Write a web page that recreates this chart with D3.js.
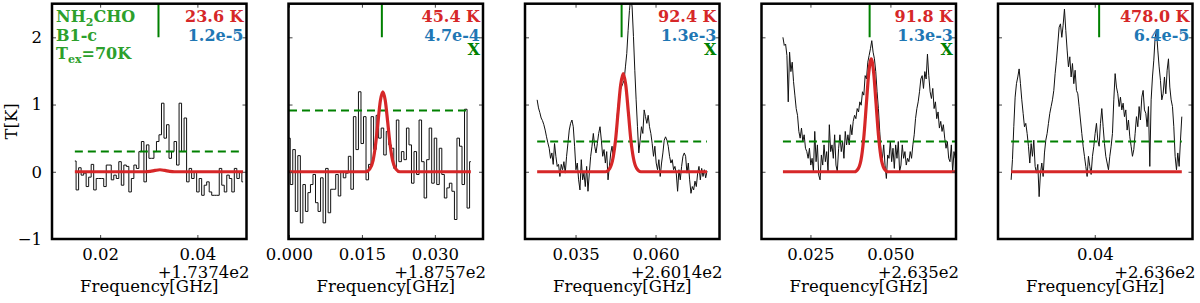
<!DOCTYPE html>
<html>
<head>
<meta charset="utf-8">
<script src="https://cdn.jsdelivr.net/npm/d3@7"></script>
<style>
  body { margin: 0; background: #fff; }
  svg text { font-family: "DejaVu Serif", serif; }
</style>
</head>
<body>
<div id="chart"></div>
<script>
// frequency offsets in GHz, one entry per panel
var offsetLabels = ["+1.7374e2", "+1.8757e2", "+2.6014e2", "+2.635e2", "+2.636e2"];
var xDomains = [[0.0101, 0.0501], [-0.0001, 0.0399], [0.0192, 0.0800], [0.0097, 0.0705], [0.0201, 0.0601]];
var xTicks = [[0.02, 0.04], [0, 0.015, 0.030], [0.035, 0.060], [0.025, 0.050], [0.04]];
var xTickFormats = [".2f", ".3f", ".3f", ".3f", ".2f"];
var yTicks = [-1, 0, 1, 2];

var tempLabels = ["23.6 K", "45.4 K", "92.4 K", "91.8 K", "478.0 K"];
var abundLabels = ["1.2e-5", "4.7e-4", "1.3e-3", "1.3e-3", "6.4e-5"];
var flagLabels = ["", "X", "X", "X", ""];

var rmsLevels = [0.30, 0.91, 0.45, 0.45, 0.45];
var lineFreqs = [0.0320, 0.0191, 0.0494, 0.0435, 0.0409];
var dataRanges = [[0.0148, 0.0494], [0.0000, 0.0374], [0.0230, 0.0761], [0.0164, 0.0707], [0.0228, 0.0579]];

// observed spectra (T in K), channels spread over dataRanges
var spec1 = [0.16, -0.27, 0.06, -0.05, -0.02, -0.22, -0.08, 0.11, -0.27, -0.10, -0.10, -0.10, -0.22, 0.10,
  0.10, -0.12, -0.05, -0.10, 0.15, -0.20, 0.10, 0.08, -0.30, -0.10, 0.10, 0.05, 0.30, 0.45, -0.15, 0.40,
  0.20, 0.20, 0.30, 0.45, 0.55, 1.02, 0.50, 0.70, 0.20, 0.30, 0.45, 0.10, 1.02, 0.30, 0.80, -0.15, 0.05,
  -0.10, 0.00, -0.30, -0.10, -0.35, -0.20, -0.15, -0.30, -0.35, -0.35, -0.35, 0.05, -0.20, -0.30, -0.05,
  -0.10, -0.30, 0.05, -0.10, 0.00, -0.15];
var spec2 = [0.50, -0.19, 0.33, -0.59, 0.24, -0.76, -0.19, -0.59, -0.31, -0.19, -0.04, -0.46, -0.59, -0.09,
  -0.76, 0.05, -0.61, -0.26, -0.26, -0.04, -0.36, 0.00, -0.09, -0.02, 0.23, -0.26, 0.82, 0.33, 1.19, 0.42,
  0.82, -0.12, 0.11, 0.82, 0.33, 0.84, 0.50, 0.65, 0.25, 0.60, 0.40, 0.35, 0.05, 0.77, 0.15, 0.30, 0.18,
  0.65, 0.40, -0.17, 0.30, -0.04, 0.77, 0.15, -0.39, 0.18, 0.65, -0.17, 0.50, -0.19, 0.35, -0.04, -0.39,
  -0.24, -0.17, -0.29, -0.71, 0.50, 0.38, -0.19, 0.93, -0.54, 0.15];
var spec3 = [1.07, 0.95, 0.88, 0.80, 0.76, 0.70, 0.62, 0.52, 0.43, 0.35, 0.20, 0.28, 0.11, 0.42, 0.23, 0.08,
  0.11, -0.07, 0.11, 0.03, 0.15, -0.02, 0.23, 0.42, 0.62, 0.72, 0.77, 0.67, 0.38, 0.03, 0.13, -0.12, -0.27,
  0.18, -0.12, -0.02, -0.22, 0.08, -0.29, -0.02, 0.23, 0.38, 0.57, 0.38, 0.28, 0.42, 0.57, 0.67, 0.47, 0.23,
  0.33, 0.13, 0.30, -0.12, 0.08, 0.28, 0.38, 0.18, 0.42, 0.57, 0.87, 1.07, 1.21, 1.26, 1.31, 1.36, 1.56,
  1.76, 2.10, 2.40, 2.60, 2.45, 2.01, 1.51, 1.07, 0.67, 0.28, 0.47, 0.67, 0.57, 0.92, 0.82, 0.72, 0.84,
  0.67, 0.57, 0.42, 0.23, 0.38, 0.13, 0.03, 0.18, -0.07, 0.13, 0.28, 0.47, 0.52, 0.47, 0.38, 0.23, 0.13,
  0.18, 0.03, 0.08, -0.02, -0.29, 0.03, -0.12, 0.08, 0.23, 0.28, 0.23, -0.02, 0.13, -0.12, -0.32, -0.22,
  -0.27, -0.14, -0.22, -0.02, 0.08, -0.12, 0.05, -0.07, 0.03, -0.09, 0.01];
var spec4 = [2.00, 1.88, 1.90, 1.73, 1.04, 1.78, 1.49, 1.63, 1.34, 1.14, 0.94, 0.84, 0.60, 0.50, 0.65, 0.45,
  0.55, 0.35, 0.30, 0.20, 0.35, 0.10, 0.20, 0.00, 0.60, 0.15, 0.40, -0.05, -0.12, 0.25, 0.10, 0.40, 0.15,
  0.30, 0.00, 0.70, 0.30, 0.40, 0.20, 0.55, 0.10, 0.00, 0.35, 0.55, 0.30, 0.45, 0.20, 0.60, 0.40, 0.55,
  0.40, 0.70, 0.55, 0.75, 0.84, 0.79, 0.94, 0.89, 1.04, 0.99, 1.19, 1.14, 1.43, 1.38, 1.63, 1.73, 1.83,
  1.95, 1.78, 1.68, 1.49, 1.19, 0.94, 0.60, 0.30, 0.20, 0.40, 0.10, -0.10, 0.25, 0.20, 0.45, 0.15, 0.35,
  0.05, 0.40, 0.20, 0.45, 0.00, 0.10, 0.40, 0.20, 0.30, 0.10, 0.20, 0.15, 0.30, 0.20, 0.40, 0.55, 0.79,
  0.94, 1.04, 1.19, 1.38, 1.43, 1.24, 1.49, 1.38, 1.75, 1.43, 1.19, 1.09, 1.24, 0.94, 1.04, 0.79, 0.89,
  0.65, 0.75, 0.60, 0.70, 0.50, 0.35, 0.45, 0.20, 0.15, 0.40, 0.00, 0.30, 0.20, 0.40];
var spec5 = [-0.12, 0.18, 0.67, 1.11, 1.31, 1.41, 1.53, 1.31, 1.07, 0.87, 0.67, 0.72, 0.57, 0.38, 0.13, 0.42,
  0.23, 0.47, 0.08, -0.02, 0.11, -0.37, -0.02, 0.13, -0.07, 0.28, 0.47, 0.57, 0.72, 0.87, 0.97, 1.07, 1.21,
  1.46, 1.66, 1.90, 2.15, 2.20, 2.00, 2.18, 2.42, 2.10, 1.81, 1.56, 1.71, 1.41, 1.61, 1.31, 1.51, 1.21,
  1.16, 0.97, 0.77, 0.57, 0.38, 0.23, 0.08, -0.07, 0.23, 0.08, -0.04, 0.23, 0.38, 0.57, 0.72, 0.47, 0.38,
  0.72, 0.94, 0.67, 0.42, 0.23, 0.13, 0.03, 0.23, 0.38, 0.57, 1.07, 1.46, 1.26, 1.16, 0.97, 1.11, 0.92,
  1.02, 0.82, 0.92, 0.62, 0.77, 0.52, 0.38, 0.23, 0.33, 0.57, 0.82, 0.67, 0.97, 0.77, 1.11, 1.21, 0.92,
  0.87, 0.67, 0.97, 0.08, 1.07, 1.41, 1.66, 2.00, 2.10, 1.81, 1.56, 1.36, 1.07, 1.16, 1.41, 1.16, 1.51,
  1.68, 1.26, 1.07, 0.97, 0.67, 0.23, 0.03, 0.28, 0.08, 0.47, 0.82];
var spectra = [spec1, spec2, spec3, spec4, spec5];
var stepped = [true, true, false, false, false];

// LTE model, [freq offset, T]
var model1 = [[0.0148, 0], [0.0293, 0], [0.0303, 0.006], [0.0313, 0.02], [0.0323, 0.03], [0.0333, 0.02],
  [0.0343, 0.006], [0.0353, 0], [0.0494, 0]];
var model2 = [[0.0000, 0], [0.0158, 0], [0.0166, 0.04], [0.0173, 0.17], [0.0178, 0.40], [0.0183, 0.74],
  [0.0188, 1.06], [0.0193, 1.19], [0.0198, 1.06], [0.0203, 0.74], [0.0208, 0.40], [0.0213, 0.17],
  [0.0220, 0.04], [0.0228, 0], [0.0374, 0]];
var model3 = [[0.0230, 0], [0.0444, 0], [0.0457, 0.05], [0.0467, 0.20], [0.0475, 0.47], [0.0483, 0.89],
  [0.0491, 1.29], [0.0499, 1.46], [0.0507, 1.29], [0.0515, 0.89], [0.0523, 0.47], [0.0531, 0.20],
  [0.0541, 0.05], [0.0554, 0], [0.0761, 0]];
var model4 = [[0.0164, 0], [0.0388, 0], [0.0400, 0.05], [0.0410, 0.23], [0.04175, 0.55], [0.0425, 1.02],
  [0.04325, 1.48], [0.0440, 1.68], [0.04475, 1.48], [0.0455, 1.02], [0.04625, 0.55], [0.0470, 0.23],
  [0.0480, 0.05], [0.0492, 0], [0.0707, 0]];
var model5 = [[0.0228, 0], [0.0579, 0]];
var models = [model1, model2, model3, model4, model5];

var svgWidth = 1200;
var svgHeight = 303;
var left0 = 52, step = 236.5, panelW = 194.5, panelTop = 3.7, panelH = 235.3;
var fontSize = 16.5;

var svg = d3.select("#chart")
  .append("svg")
  .attr("width", svgWidth)
  .attr("height", svgHeight);

svg.append("rect").attr("width", svgWidth).attr("height", svgHeight).attr("fill", "#fff");

// y label
svg.append("text")
  .attr("transform", `translate(17, ${panelTop + panelH / 2}) rotate(-90)`)
  .attr("text-anchor", "middle")
  .attr("font-size", fontSize)
  .text("T[K]");

spectra.forEach(function(spec, i) {
  var g = svg.append("g")
    .attr("transform", `translate(${left0 + i * step}, ${panelTop})`);

  var x = d3.scaleLinear().domain(xDomains[i]).range([0, panelW]);
  var y = d3.scaleLinear().domain([-1, 2.5]).range([panelH, 0]);

  g.append("clipPath").attr("id", "clip" + i)
    .append("rect").attr("width", panelW).attr("height", panelH);

  var plot = g.append("g").attr("clip-path", `url(#clip${i})`);

  // channel frequencies
  var chan = d3.scaleLinear().domain([0, spec.length - 1]).range(dataRanges[i]);
  var pts = spec.map((t, k) => [chan(k), t]);

  var line = d3.line()
    .x(d => x(d[0]))
    .y(d => y(d[1]))
    .curve(stepped[i] ? d3.curveStep : d3.curveLinear);

  plot.append("path")
    .datum(pts)
    .attr("d", line)
    .attr("fill", "none")
    .attr("stroke", "#111")
    .attr("stroke-width", 1);

  plot.append("line")
    .attr("x1", x(dataRanges[i][0]))
    .attr("x2", x(dataRanges[i][1]))
    .attr("y1", y(rmsLevels[i]))
    .attr("y2", y(rmsLevels[i]))
    .attr("stroke", "#008000")
    .attr("stroke-width", 2)
    .attr("stroke-dasharray", "8,5");

  plot.append("path")
    .datum(models[i])
    .attr("d", d3.line().x(d => x(d[0])).y(d => y(d[1])).curve(d3.curveMonotoneX))
    .attr("fill", "none")
    .attr("stroke", "#d62728")
    .attr("stroke-width", 3.2);

  plot.append("line")
    .attr("x1", x(lineFreqs[i]))
    .attr("x2", x(lineFreqs[i]))
    .attr("y1", y(2))
    .attr("y2", y(2.5))
    .attr("stroke", "#008000")
    .attr("stroke-width", 2);

  // axes with inward ticks
  var bottom = g.append("g")
    .attr("transform", `translate(0, ${panelH})`)
    .call(d3.axisBottom(x).tickValues(xTicks[i]).tickFormat(d3.format(xTickFormats[i]))
      .tickSize(-4).tickPadding(9));
  var top = g.append("g")
    .call(d3.axisTop(x).tickValues(xTicks[i]).tickFormat("").tickSize(-4));
  var leftAx = g.append("g")
    .call(d3.axisLeft(y).tickValues(yTicks).tickFormat(i === 0 ? d3.format("d") : "")
      .tickSize(-4).tickPadding(10));
  var rightAx = g.append("g")
    .attr("transform", `translate(${panelW}, 0)`)
    .call(d3.axisRight(y).tickValues(yTicks).tickFormat("").tickSize(-4));

  [bottom, top, leftAx, rightAx].forEach(function(ax) {
    ax.select(".domain").remove();
    ax.selectAll("line").attr("stroke", "#444").attr("stroke-width", 1);
    ax.selectAll("text")
      .attr("font-family", "DejaVu Serif")
      .attr("font-size", fontSize)
      .attr("fill", "#000");
  });

  g.append("rect")
    .attr("width", panelW)
    .attr("height", panelH)
    .attr("fill", "none")
    .attr("stroke", "#000")
    .attr("stroke-width", 2.5);

  g.append("text")
    .attr("x", panelW + 3)
    .attr("y", panelH + 39)
    .attr("text-anchor", "end")
    .attr("font-size", fontSize)
    .text(offsetLabels[i]);

  g.append("text")
    .attr("x", panelW / 2)
    .attr("y", panelH + 53)
    .attr("text-anchor", "middle")
    .attr("font-size", fontSize)
    .text("Frequency[GHz]");

  // annotations in the top right corner
  var labels = [[tempLabels[i], "#d62728", 18.3], [abundLabels[i], "#1f77b4", 37.0], [flagLabels[i], "#008000", 51.8]];
  labels.forEach(function(l) {
    if (!l[0]) return;
    g.append("text")
      .attr("x", panelW - 3)
      .attr("y", l[2])
      .attr("text-anchor", "end")
      .attr("font-size", 16)
      .attr("font-weight", "bold")
      .attr("fill", l[1])
      .text(l[0]);
  });

  if (i === 0) {
    var green = "#2ca02c";
    var t1 = g.append("text").attr("x", 4).attr("y", 18.3)
      .attr("font-size", 16).attr("font-weight", "bold").attr("fill", green);
    t1.append("tspan").text("NH");
    t1.append("tspan").attr("font-size", 11).attr("dy", 4).text("2");
    t1.append("tspan").attr("dy", -4).text("CHO");

    g.append("text").attr("x", 4).attr("y", 37.3)
      .attr("font-size", 16).attr("font-weight", "bold").attr("fill", green)
      .text("B1-c");

    var t3 = g.append("text").attr("x", 4).attr("y", 55.3)
      .attr("font-size", 16).attr("font-weight", "bold").attr("fill", green);
    t3.append("tspan").text("T");
    t3.append("tspan").attr("font-size", 11).attr("dy", 4).text("ex");
    t3.append("tspan").attr("dy", -4).text("=70K");
  }
});
</script>
</body>
</html>
